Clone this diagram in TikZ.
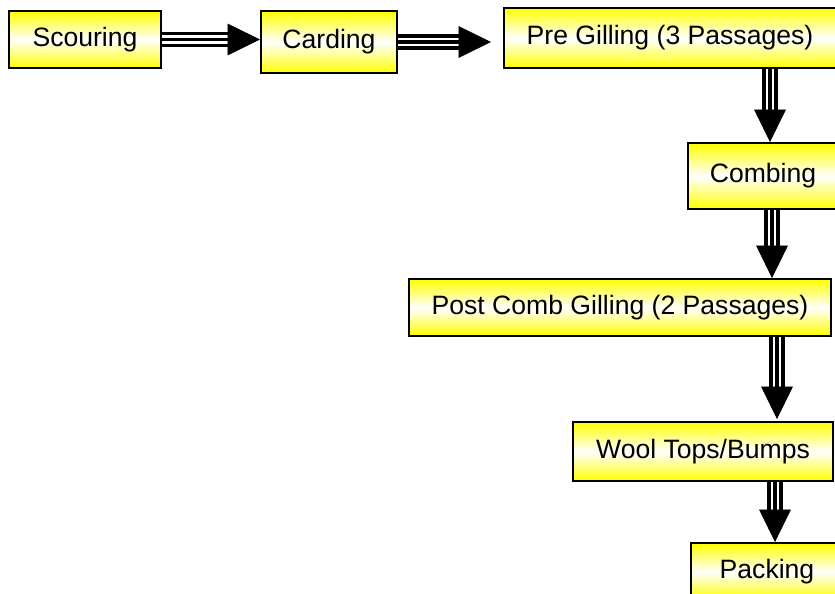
\documentclass[tikz,border=0pt]{standalone}
\usepackage{fontspec}
\setmainfont{Liberation Sans}
\usetikzlibrary{calc,arrows.meta}
% triple-line block arrow from #1 to #2
\newcommand\flowarrow[2]{%
  \draw[shaft] (#1) -- ($(#2)!22pt!(#1)$);
  \draw[line width=2.5pt] (#1) -- ($(#2)!22pt!(#1)$);
  \draw[-{Triangle[length=23pt,width=22.5pt]}] ($(#2)!23pt!(#1)$) -- (#2);
}

\begin{document}
\begin{tikzpicture}[x=0.025cm, y=-0.025cm,
    stage/.style={draw=black, line width=1.4pt, top color=yellow, bottom color=yellow,
      middle color=white, inner sep=0pt, font=\fontsize{18.9}{22}\selectfont},
    shaft/.style={line width=2.5pt, double=white, double distance=6.1pt}]
  \useasboundingbox (0,0) rectangle (835,593);
  \clip (0,0) rectangle (835,593);

  %%%%% stages %%%%%
  \node[stage, minimum width=3.8cm, minimum height=1.425cm] (scour) at (85,39.5) {Scouring};
  \node[stage, minimum width=3.4cm, minimum height=1.55cm] (card) at (329,42) {Carding};
  \node[stage, minimum width=8.3cm, minimum height=1.5cm] (pregill) at (670,38) {Pre Gilling (3 Passages)};
  \node[stage, minimum width=3.75cm, minimum height=1.65cm] (comb) at (763,176) {Combing};
  \node[stage, minimum width=10.55cm, minimum height=1.425cm] (postcomb) at (620,307.5) {Post Comb Gilling (2 Passages)};
  \node[stage, minimum width=6.5cm, minimum height=1.475cm] (wool) at (703,451.5) {Wool Tops/Bumps};
  \node[stage, minimum width=3.8cm, minimum height=1.425cm] (pack) at (767,571.5) {Packing};

  %%%%% arrow ends %%%%%
  \coordinate (cardin) at ($(card.east -| pregill.west)+(-12,0)$);
  \coordinate (preout) at ($(pregill.south)+(100,0)$);
  \coordinate (combin) at ($(comb.north)+(7,0)$);
  \coordinate (combout) at ($(comb.south)+(9,0)$);
  \coordinate (postin) at ($(postcomb.north)+(152,0)$);
  \coordinate (postout) at ($(postcomb.south)+(157,0)$);
  \coordinate (woolin) at ($(wool.north)+(74,-2)$);
  \coordinate (woolout) at ($(wool.south)+(72,0)$);
  \coordinate (packin) at ($(pack.north)+(8,0)$);

  %%%%% arrows %%%%%
  \flowarrow{scour.east}{scour.east -| card.west}
  \flowarrow{card.east}{cardin}
  \flowarrow{preout}{combin}
  \flowarrow{combout}{postin}
  \flowarrow{postout}{woolin}
  \flowarrow{woolout}{packin}
\end{tikzpicture}
\end{document}
